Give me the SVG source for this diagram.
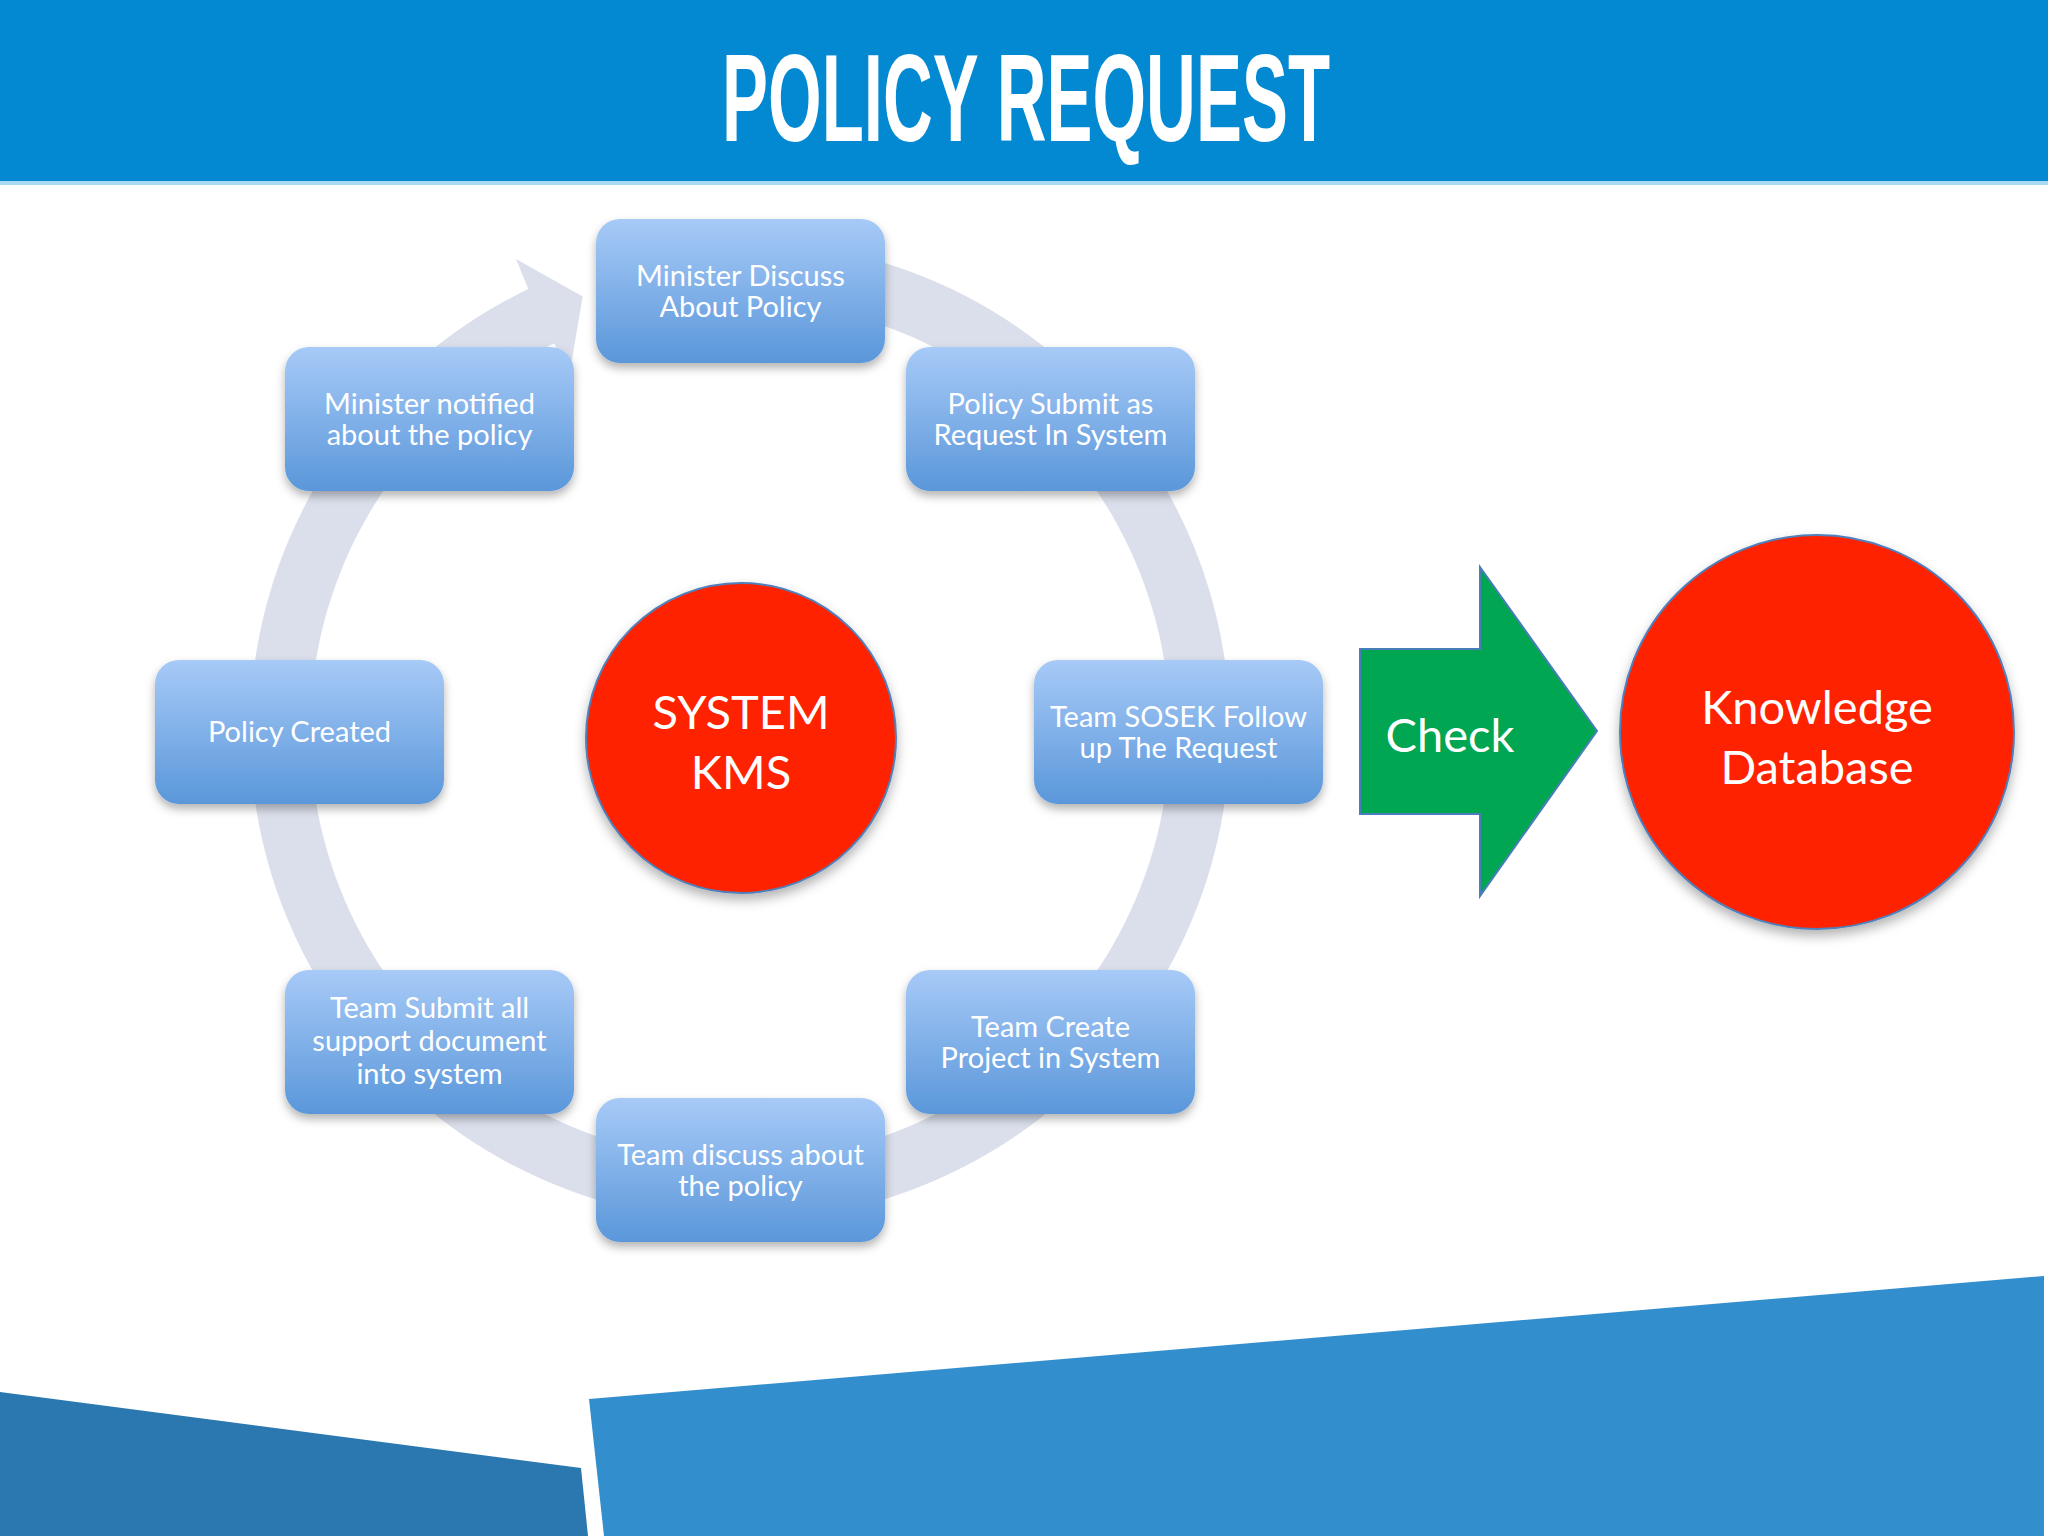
<svg xmlns="http://www.w3.org/2000/svg" width="2048" height="1536" viewBox="0 0 2048 1536">
<defs>
<linearGradient id="nodeGrad" x1="0" y1="0" x2="0" y2="1">
<stop offset="0" stop-color="#A7CAF7"/>
<stop offset="1" stop-color="#5A97DA"/>
</linearGradient>
<filter id="shadow" x="-20%" y="-20%" width="140%" height="150%">
<feDropShadow dx="0" dy="5" stdDeviation="5" flood-color="#000" flood-opacity="0.3"/>
</filter>
<filter id="cshadow" x="-20%" y="-20%" width="140%" height="150%">
<feDropShadow dx="0" dy="6" stdDeviation="6" flood-color="#000" flood-opacity="0.3"/>
</filter>
</defs>
<style>
.node rect { fill: url(#nodeGrad); filter: url(#shadow); }
.ntext { font-family: Lato, "Open Sans", "Liberation Sans", sans-serif; font-size: 29px; fill: #FFFFFF; text-anchor: middle; }
.big { font-family: Lato, "Open Sans", "Liberation Sans", sans-serif; font-size: 47px; fill: #FFFFFF; text-anchor: middle; }
.circ { fill: #FF2200; stroke: #4F81BD; stroke-width: 2; filter: url(#cshadow); }
</style>
<rect x="0" y="0" width="2048" height="1536" fill="#FFFFFF"/>
<!-- header -->
<rect x="0" y="0" width="2048" height="182" fill="#0289D1"/>
<rect x="0" y="181" width="2048" height="4" fill="#A9D9F2"/>
<text x="722" y="141" textLength="608" lengthAdjust="spacingAndGlyphs" font-family="'Liberation Sans', Arial, sans-serif" font-weight="bold" font-size="124" fill="#FFFFFF">POLICY REQUEST</text>
<!-- bottom shapes -->
<polygon points="0,1392 581,1468 588,1536 0,1536" fill="#2A78AF"/>
<polygon points="589,1399 2044,1276 2044,1536 604,1536" fill="#338ECD"/>
<!-- connectors -->
<g id="connectors">
<path id="cycle-arrow" d="M 782.7 242.9 A 490 490 0 1 1 528.3 289.1 L 516 259 L 582.7 296.6 L 569.3 374.8 L 554.2 343.2 A 430 430 0 1 0 777.5 302.6 Z" fill="#DADFEB"/>
<polygon id="check-arrow" points="1360,649 1480,649 1480,567 1597,731 1480,896 1480,814 1360,814" fill="#00A651" stroke="#4A7EBB" stroke-width="2"/>
<text class="big" x="1450" y="752">Check</text>
</g>
<!-- nodes -->
<g id="n1" class="node"><rect x="596" y="219" width="289" height="144" rx="24"/>
<text class="ntext"><tspan x="740.5" y="286">Minister Discuss</tspan><tspan x="740.5" y="317">About Policy</tspan></text></g>
<g id="n2" class="node"><rect x="906" y="347" width="289" height="144" rx="24"/>
<text class="ntext"><tspan x="1050.5" y="414">Policy Submit as</tspan><tspan x="1050.5" y="445">Request In System</tspan></text></g>
<g id="n3" class="node"><rect x="1034" y="660" width="289" height="144" rx="24"/>
<text class="ntext"><tspan x="1178.5" y="727">Team SOSEK Follow</tspan><tspan x="1178.5" y="758">up The Request</tspan></text></g>
<g id="n4" class="node"><rect x="906" y="970" width="289" height="144" rx="24"/>
<text class="ntext"><tspan x="1050.5" y="1037">Team Create</tspan><tspan x="1050.5" y="1068">Project in System</tspan></text></g>
<g id="n5" class="node"><rect x="596" y="1098" width="289" height="144" rx="24"/>
<text class="ntext"><tspan x="740.5" y="1165">Team discuss about</tspan><tspan x="740.5" y="1196">the policy</tspan></text></g>
<g id="n6" class="node"><rect x="285" y="970" width="289" height="144" rx="24"/>
<text class="ntext"><tspan x="429.5" y="1018">Team Submit all</tspan><tspan x="429.5" y="1051">support document</tspan><tspan x="429.5" y="1084">into system</tspan></text></g>
<g id="n7" class="node"><rect x="155" y="660" width="289" height="144" rx="24"/>
<text class="ntext" x="299.5" y="742">Policy Created</text></g>
<g id="n8" class="node"><rect x="285" y="347" width="289" height="144" rx="24"/>
<text class="ntext"><tspan x="429.5" y="414">Minister notified</tspan><tspan x="429.5" y="445">about the policy</tspan></text></g>
<g id="kms"><circle class="circ" cx="741" cy="738" r="155"/>
<text class="big"><tspan x="741" y="729">SYSTEM</tspan><tspan x="741" y="789">KMS</tspan></text></g>
<g id="kdb"><circle class="circ" cx="1817" cy="732" r="197"/>
<text class="big"><tspan x="1817" y="724">Knowledge</tspan><tspan x="1817" y="784">Database</tspan></text></g>
</svg>
